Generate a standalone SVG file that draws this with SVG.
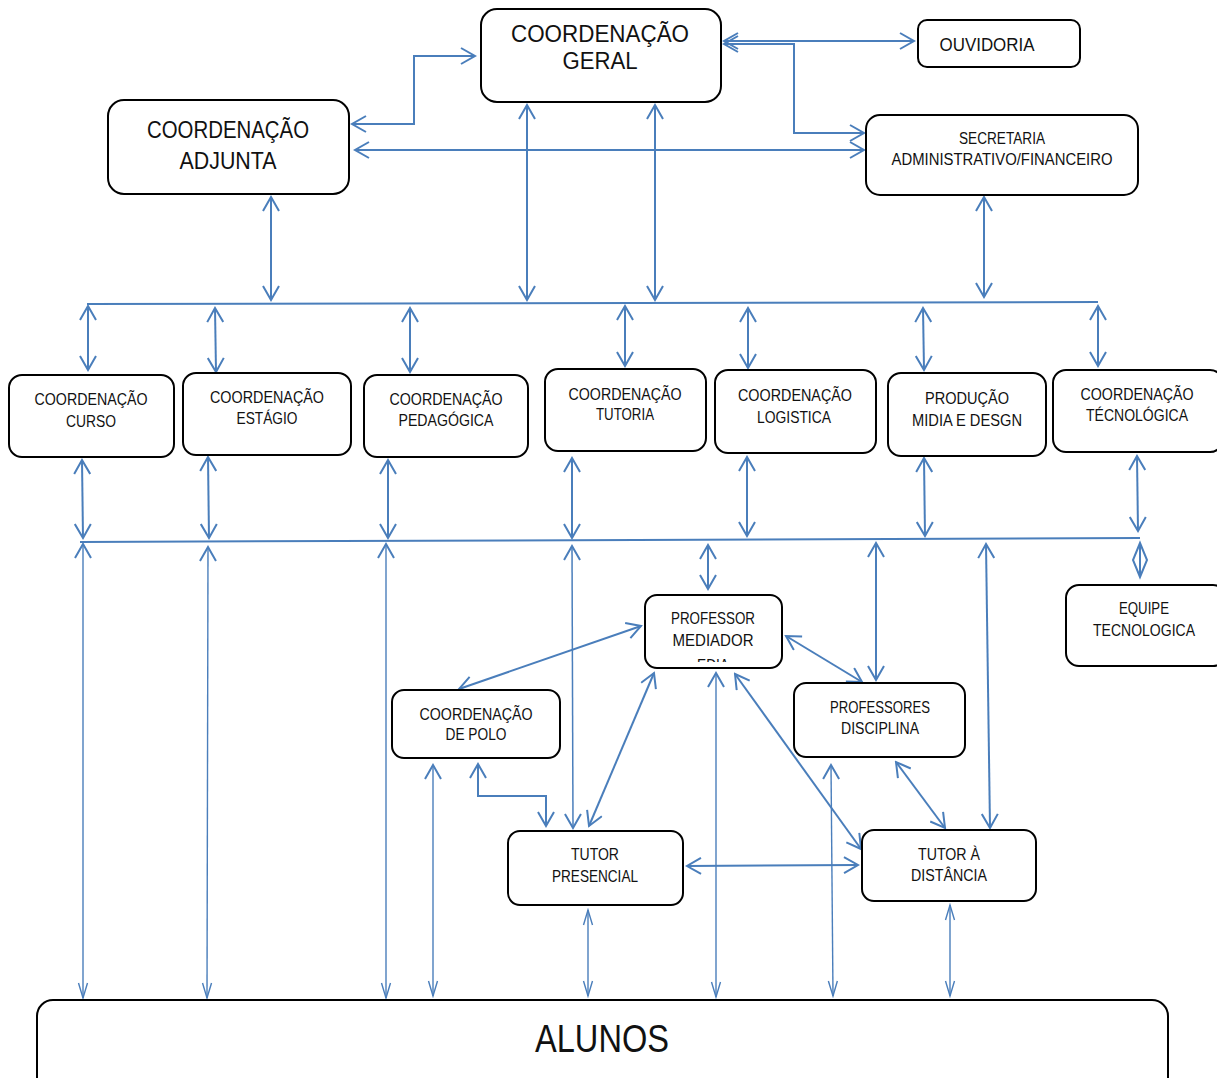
<svg xmlns="http://www.w3.org/2000/svg" width="1217" height="1078" viewBox="0 0 1217 1078">
<style>
.box{fill:#fff;stroke:#000;stroke-width:2}
text{font-family:"Liberation Sans",Arial,sans-serif;fill:#111;text-anchor:middle}
.c{stroke:#4a7ebb;stroke-width:2;fill:none}
.w{marker-start:url(#a);marker-end:url(#a)}
.tn{stroke-width:1.4;marker-start:url(#a);marker-end:url(#t)}
.tt{stroke-width:1.4;marker-start:url(#t);marker-end:url(#t)}
.f23{font-size:23px}.f17{font-size:17px}.f16{font-size:16px}
</style>
<defs>
<marker id="a" viewBox="0 0 18 18" refX="16" refY="9" markerWidth="18" markerHeight="18" markerUnits="userSpaceOnUse" orient="auto-start-reverse"><path d="M2,1 L16,9 L2,17" fill="none" stroke="#4a7ebb" stroke-width="2"/></marker>
<marker id="t" viewBox="0 0 18 18" refX="16" refY="9" markerWidth="18" markerHeight="18" markerUnits="userSpaceOnUse" orient="auto-start-reverse"><path d="M1,4.5 L16,9 L1,13.5" fill="none" stroke="#4a7ebb" stroke-width="1.4"/></marker>
<clipPath id="pmclip"><rect x="645" y="595" width="137" height="67"/></clipPath>
</defs>
<rect width="1217" height="1078" fill="#fff"/>

<g id="connectors">
<polyline class="c w" points="475,56 414,56 414,124 352,124"/>
<line class="c w" x1="355" y1="150" x2="864" y2="150"/>
<line class="c w" x1="724" y1="41" x2="914" y2="41"/>
<polyline class="c w" points="724,44 794,44 794,133 864,133"/>
<line class="c w" x1="271" y1="197" x2="271" y2="300"/>
<line class="c w" x1="527" y1="105" x2="527" y2="300"/>
<line class="c w" x1="655" y1="105" x2="655" y2="300"/>
<line class="c w" x1="984" y1="197" x2="984" y2="297"/>
<line class="c" x1="87" y1="304" x2="1098" y2="302"/>

<line class="c w" x1="88" y1="306" x2="88" y2="370"/>
<line class="c w" x1="215" y1="308" x2="216" y2="372"/>
<line class="c w" x1="410" y1="308" x2="410" y2="372"/>
<line class="c w" x1="625" y1="306" x2="625" y2="366"/>
<line class="c w" x1="748" y1="308" x2="748" y2="368"/>
<line class="c w" x1="923" y1="308" x2="924" y2="370"/>
<line class="c w" x1="1098" y1="306" x2="1098" y2="366"/>

<line class="c w" x1="82" y1="460" x2="83" y2="538"/>
<line class="c w" x1="208" y1="457" x2="209" y2="538"/>
<line class="c w" x1="388" y1="460" x2="388" y2="538"/>
<line class="c w" x1="572" y1="458" x2="572" y2="538"/>
<line class="c w" x1="747" y1="457" x2="747" y2="536"/>
<line class="c w" x1="924" y1="458" x2="925" y2="536"/>
<line class="c w" x1="1137" y1="456" x2="1138" y2="531"/>
<line class="c" x1="80" y1="542" x2="1140" y2="538"/>

<line class="c tn" x1="83" y1="544" x2="83" y2="998"/>
<line class="c tn" x1="208" y1="547" x2="207" y2="998"/>
<line class="c tn" x1="386" y1="544" x2="386" y2="998"/>
<line class="c w" style="stroke-width:1.5" x1="572" y1="546" x2="573" y2="828"/>
<line class="c w" x1="708" y1="545" x2="708" y2="589"/>
<line class="c w" x1="876" y1="543" x2="876" y2="680"/>
<line class="c w" x1="986" y1="544" x2="990" y2="828"/>
<path class="c" d="M1140,543 L1133,560 L1140,577 L1147,560 Z M1140,543 L1140,577"/>

<line class="c w" x1="641" y1="626" x2="459" y2="689"/>
<line class="c w" x1="786" y1="636" x2="862" y2="682"/>
<line class="c w" x1="654" y1="673" x2="589" y2="826"/>
<line class="c tn" x1="716" y1="673" x2="716" y2="997"/>
<line class="c w" x1="735" y1="674" x2="861" y2="849"/>
<polyline class="c w" points="478,764 478,796 546,796 546,826"/>
<line class="c tn" x1="433" y1="765" x2="433" y2="996"/>
<line class="c w" x1="687" y1="866" x2="858" y2="865"/>
<line class="c w" x1="896" y1="762" x2="945" y2="828"/>
<line class="c tn" x1="831" y1="765" x2="833" y2="996"/>
<line class="c tt" x1="588" y1="910" x2="588" y2="996"/>
<line class="c tt" x1="950" y1="905" x2="950" y2="996"/>
</g>

<g id="geral"><rect class="box" x="481" y="9" width="240" height="93" rx="16"/>
<text class="f23" x="600" y="42" textLength="178" lengthAdjust="spacingAndGlyphs">COORDENAÇÃO</text>
<text class="f23" x="600" y="69" textLength="75" lengthAdjust="spacingAndGlyphs">GERAL</text></g>

<g id="ouvidoria"><rect class="box" x="918" y="20" width="162" height="47" rx="9"/>
<text x="987" y="51" style="font-size:18px" textLength="95" lengthAdjust="spacingAndGlyphs">OUVIDORIA</text></g>

<g id="adjunta"><rect class="box" x="108" y="100" width="241" height="94" rx="16"/>
<text class="f23" x="228" y="138" textLength="162" lengthAdjust="spacingAndGlyphs">COORDENAÇÃO</text>
<text class="f23" x="228" y="169" textLength="97" lengthAdjust="spacingAndGlyphs">ADJUNTA</text></g>

<g id="secretaria"><rect class="box" x="866" y="115" width="272" height="80" rx="14"/>
<text class="f16" x="1002" y="144" textLength="86" lengthAdjust="spacingAndGlyphs">SECRETARIA</text>
<text class="f16" x="1002" y="165" textLength="221" lengthAdjust="spacingAndGlyphs">ADMINISTRATIVO/FINANCEIRO</text></g>

<g id="curso"><rect class="box" x="9" y="375" width="165" height="82" rx="13"/>
<text class="f17" x="91" y="405" textLength="113" lengthAdjust="spacingAndGlyphs">COORDENAÇÃO</text>
<text class="f17" x="91" y="427" textLength="50" lengthAdjust="spacingAndGlyphs">CURSO</text></g>

<g id="estagio"><rect class="box" x="183" y="373" width="168" height="82" rx="13"/>
<text class="f17" x="267" y="403" textLength="114" lengthAdjust="spacingAndGlyphs">COORDENAÇÃO</text>
<text class="f17" x="267" y="424" textLength="61" lengthAdjust="spacingAndGlyphs">ESTÁGIO</text></g>

<g id="pedagogica"><rect class="box" x="364" y="375" width="164" height="82" rx="13"/>
<text class="f17" x="446" y="405" textLength="113" lengthAdjust="spacingAndGlyphs">COORDENAÇÃO</text>
<text class="f17" x="446" y="426" textLength="95" lengthAdjust="spacingAndGlyphs">PEDAGÓGICA</text></g>

<g id="tutoria"><rect class="box" x="545" y="369" width="161" height="82" rx="13"/>
<text class="f17" x="625" y="400" textLength="113" lengthAdjust="spacingAndGlyphs">COORDENAÇÃO</text>
<text class="f17" x="625" y="420" textLength="58" lengthAdjust="spacingAndGlyphs">TUTORIA</text></g>

<g id="logistica"><rect class="box" x="715" y="370" width="161" height="83" rx="13"/>
<text class="f17" x="795" y="401" textLength="114" lengthAdjust="spacingAndGlyphs">COORDENAÇÃO</text>
<text class="f17" x="794" y="423" textLength="74" lengthAdjust="spacingAndGlyphs">LOGISTICA</text></g>

<g id="producao"><rect class="box" x="888" y="373" width="158" height="83" rx="13"/>
<text class="f17" x="967" y="404" textLength="84" lengthAdjust="spacingAndGlyphs">PRODUÇÃO</text>
<text class="f17" x="967" y="426" textLength="110" lengthAdjust="spacingAndGlyphs">MIDIA E DESGN</text></g>

<g id="tecnologica"><rect class="box" x="1053" y="370" width="170" height="82" rx="13"/>
<text class="f17" x="1137" y="400" textLength="113" lengthAdjust="spacingAndGlyphs">COORDENAÇÃO</text>
<text class="f17" x="1137" y="421" textLength="102" lengthAdjust="spacingAndGlyphs">TÉCNOLÓGICA</text></g>

<g id="equipe"><rect class="box" x="1066" y="585" width="160" height="81" rx="13"/>
<text class="f17" x="1144" y="614" textLength="50" lengthAdjust="spacingAndGlyphs">EQUIPE</text>
<text class="f17" x="1144" y="636" textLength="102" lengthAdjust="spacingAndGlyphs">TECNOLOGICA</text></g>

<g id="mediador"><rect class="box" x="645" y="595" width="137" height="73" rx="12"/>
<text class="f17" x="713" y="624" textLength="84" lengthAdjust="spacingAndGlyphs">PROFESSOR</text>
<text class="f17" x="713" y="646" textLength="81" lengthAdjust="spacingAndGlyphs">MEDIADOR</text>
<text class="f17" x="713" y="671" textLength="32" lengthAdjust="spacingAndGlyphs" clip-path="url(#pmclip)">EDIA</text></g>

<g id="polo"><rect class="box" x="392" y="690" width="168" height="68" rx="12"/>
<text class="f17" x="476" y="720" textLength="113" lengthAdjust="spacingAndGlyphs">COORDENAÇÃO</text>
<text class="f17" x="476" y="740" textLength="61" lengthAdjust="spacingAndGlyphs">DE POLO</text></g>

<g id="disciplina"><rect class="box" x="794" y="683" width="171" height="74" rx="12"/>
<text class="f17" x="880" y="713" textLength="100" lengthAdjust="spacingAndGlyphs">PROFESSORES</text>
<text class="f17" x="880" y="734" textLength="78" lengthAdjust="spacingAndGlyphs">DISCIPLINA</text></g>

<g id="presencial"><rect class="box" x="508" y="831" width="175" height="74" rx="12"/>
<text class="f17" x="595" y="860" textLength="48" lengthAdjust="spacingAndGlyphs">TUTOR</text>
<text class="f17" x="595" y="882" textLength="86" lengthAdjust="spacingAndGlyphs">PRESENCIAL</text></g>

<g id="distancia"><rect class="box" x="862" y="830" width="174" height="71" rx="12"/>
<text class="f17" x="949" y="860" textLength="62" lengthAdjust="spacingAndGlyphs">TUTOR À</text>
<text class="f17" x="949" y="881" textLength="76" lengthAdjust="spacingAndGlyphs">DISTÂNCIA</text></g>

<g id="alunos"><rect class="box" x="37" y="1000" width="1131" height="100" rx="16"/>
<text x="602" y="1052" style="font-size:38px" textLength="134" lengthAdjust="spacingAndGlyphs">ALUNOS</text></g>
</svg>
